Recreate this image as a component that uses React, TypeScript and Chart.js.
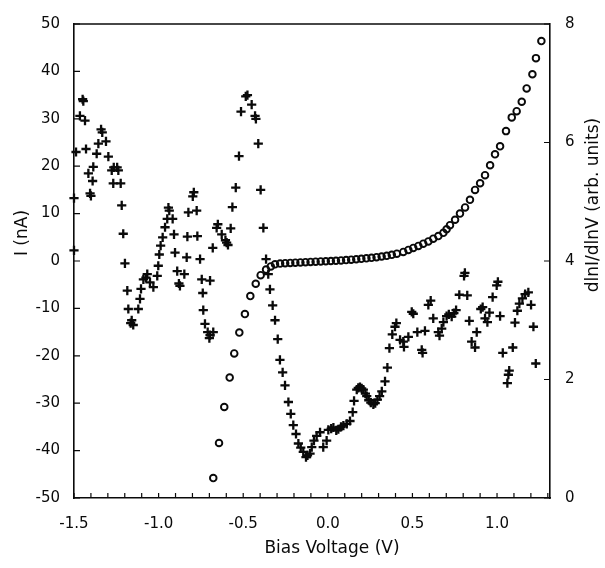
import React, { useEffect, useRef } from "react";
import { Chart, registerables } from "chart.js";

Chart.register(...registerables);

// Current I (nA), open circles, left axis
const circleV = [
  -0.677, -0.643, -0.612, -0.58, -0.553, -0.523, -0.49, -0.458, -0.426, -0.397, -0.365, -0.337, -0.312,
  -0.282, -0.252, -0.222, -0.192, -0.162, -0.132, -0.102, -0.072, -0.042, -0.012, 0.018, 0.048, 0.078,
  0.108, 0.138, 0.168, 0.198, 0.228, 0.258, 0.288, 0.318, 0.348, 0.378, 0.408, 0.446, 0.476, 0.505,
  0.535, 0.564, 0.594, 0.623, 0.653, 0.683, 0.702, 0.722, 0.752, 0.781, 0.811, 0.84, 0.87, 0.9, 0.929,
  0.959, 0.988, 1.018, 1.053, 1.087, 1.116, 1.146, 1.175, 1.209, 1.23, 1.262,
];
const circleI = [
  -45.8, -38.4, -30.8, -24.6, -19.5, -15.1, -11.2, -7.4, -4.8, -3.0, -1.8, -1.15, -0.7,
  -0.55, -0.45, -0.4, -0.35, -0.3, -0.25, -0.2, -0.15, -0.1, -0.05, 0.0, 0.05, 0.12,
  0.2, 0.28, 0.37, 0.46, 0.56, 0.68, 0.8, 0.95, 1.1, 1.3, 1.55, 1.92, 2.34, 2.76,
  3.17, 3.65, 4.13, 4.7, 5.26, 5.95, 6.7, 7.55, 8.7, 10.0, 11.3, 12.9, 15.0, 16.4, 18.1,
  20.2, 22.5, 24.2, 27.4, 30.3, 31.6, 33.6, 36.4, 39.4, 42.8, 46.4,
];

// dlnI/dlnV (arb. units), crosses, right axis
const crossV = [
  -1.5, -1.5, -1.488, -1.449, -1.445, -1.465, -1.435, -1.429, -1.415, -1.386, -1.39, -1.405, -1.4,
  -1.366, -1.356, -1.333, -1.34, -1.311, -1.297, -1.277, -1.265, -1.238, -1.245, -1.268, -1.224,
  -1.218, -1.209, -1.199, -1.185, -1.179, -1.12, -1.159, -1.15, -1.165, -1.11, -1.104, -1.09,
  -1.067, -1.075, -1.051, -1.031, -1.008, -1.002, -0.996, -0.988, -0.976, -0.962, -0.949, -0.937,
  -0.942, -0.917, -0.909, -0.903, -0.89, -0.874, -0.88, -0.848, -0.834, -0.83, -0.824, -0.798,
  -0.792, -0.775, -0.771, -0.755, -0.745, -0.696, -0.739, -0.736, -0.726, -0.71, -0.696, -0.7,
  -0.677, -0.68, -0.657, -0.65, -0.627, -0.605, -0.598, -0.59, -0.574, -0.564, -0.544, -0.525,
  -0.513, -0.485, -0.475, -0.45, -0.43, -0.425, -0.411, -0.397, -0.381, -0.365, -0.352, -0.342,
  -0.326, -0.312, -0.296, -0.283, -0.267, -0.253, -0.233, -0.219, -0.204, -0.188, -0.174, -0.16,
  -0.145, -0.129, -0.12, -0.105, -0.095, -0.082, -0.066, -0.046, -0.027, -0.007, 0.003, 0.02,
  0.033, 0.05, 0.062, 0.078, 0.092, 0.112, 0.131, 0.147, 0.155, 0.171, 0.18, 0.19, 0.2, 0.21,
  0.222, 0.23, 0.242, 0.254, 0.269, 0.28, 0.293, 0.306, 0.319, 0.338, 0.352, 0.364, 0.381, 0.397,
  0.405, 0.427, 0.45, 0.446, 0.476, 0.496, 0.505, 0.529, 0.555, 0.56, 0.574, 0.594, 0.608, 0.623,
  0.653, 0.66, 0.673, 0.683, 0.702, 0.715, 0.732, 0.745, 0.758, 0.777, 0.805, 0.81, 0.824, 0.836,
  0.85, 0.87, 0.88, 0.904, 0.915, 0.929, 0.943, 0.955, 0.974, 0.998, 1.005, 1.018, 1.034, 1.093,
  1.067, 1.061, 1.072, 1.106, 1.12, 1.132, 1.15, 1.166, 1.185, 1.201, 1.215, 1.229,
];
const crossD = [
  5.06, 4.18, 5.84, 6.73, 6.7, 6.45, 6.37, 5.89, 5.48, 5.59, 5.35, 5.14, 5.1,
  5.81, 5.98, 6.17, 6.22, 6.02, 5.76, 5.53, 5.58, 5.53, 5.58, 5.31, 5.31,
  4.94, 4.46, 3.96, 3.5, 3.19, 3.19, 3.0, 2.92, 2.95, 3.36, 3.53, 3.69,
  3.78, 3.72, 3.64, 3.56, 3.75, 3.92, 4.11, 4.26, 4.4, 4.57, 4.71, 4.85,
  4.9, 4.71, 4.45, 4.14, 3.83, 3.58, 3.62, 3.78, 4.06, 4.41, 4.82, 5.09,
  5.16, 4.85, 4.42, 4.03, 3.69, 3.67, 3.46, 3.17, 2.94, 2.8, 2.75, 2.7,
  2.8, 4.22, 4.56, 4.62, 4.45, 4.35, 4.31, 4.27, 4.55, 4.91, 5.24, 5.77,
  6.52, 6.78, 6.8, 6.64, 6.45, 6.4, 5.98, 5.2, 4.56, 4.03, 3.78, 3.52,
  3.25, 3.0, 2.68, 2.33, 2.12, 1.9, 1.62, 1.42, 1.23, 1.08, 0.92, 0.85,
  0.78, 0.69, 0.72, 0.75, 0.86, 0.97, 1.05, 1.11, 0.86, 0.97, 1.15, 1.17,
  1.19, 1.14, 1.16, 1.2, 1.22, 1.25, 1.3, 1.45, 1.64, 1.83, 1.86, 1.87, 1.85, 1.83,
  1.76, 1.72, 1.65, 1.61, 1.58, 1.6, 1.66, 1.72, 1.8, 1.97, 2.2, 2.53, 2.76, 2.89,
  2.95, 2.67, 2.55, 2.64, 2.72, 3.14, 3.11, 2.8, 2.5, 2.45, 2.82, 3.26, 3.33, 3.03,
  2.8, 2.74, 2.86, 2.97, 3.07, 3.1, 3.06, 3.12, 3.17, 3.43, 3.75, 3.8, 3.42, 2.99,
  2.64, 2.54, 2.8, 3.19, 3.22, 3.03, 2.97, 3.13, 3.39, 3.59, 3.65, 3.07, 2.45, 2.54,
  2.08, 1.94, 2.15, 2.96, 3.16, 3.28, 3.37, 3.44, 3.47, 3.26, 2.89, 2.27,
];

const xTicks = [-1.5, -1.0, -0.5, 0.0, 0.5, 1.0];
const xMinorTicks = [
  -1.5, -1.4, -1.3, -1.2, -1.1, -1.0, -0.9, -0.8, -0.7, -0.6, -0.5, -0.4, -0.3, -0.2, -0.1,
  0.0, 0.1, 0.2, 0.3, 0.4, 0.5, 0.6, 0.7, 0.8, 0.9, 1.0, 1.1, 1.2, 1.3,
];
const yLeftTicks = [-50, -40, -30, -20, -10, 0, 10, 20, 30, 40, 50];
const yRightTicks = [0, 2, 4, 6, 8];

const xTitle = "Bias Voltage (V)";
const yLeftTitle = "I (nA)";
const yRightTitle = "dlnI/dlnV (arb. units)";

const INK = "#0a0a0a";
const FONT = "DejaVu Sans";

const framePlugin = {
  id: "framePlugin",
  afterDraw(chart: any) {
    const { ctx, chartArea } = chart;
    const { left, right, top, bottom } = chartArea;
    const xs = chart.scales.x;
    const yl = chart.scales.y;
    const yr = chart.scales.y2;
    ctx.save();
    ctx.strokeStyle = INK;
    ctx.lineWidth = 1.5;
    ctx.beginPath();
    ctx.moveTo(left, top);
    ctx.lineTo(right, top);
    ctx.stroke();
    ctx.lineWidth = 1.2;
    ctx.beginPath();
    for (const v of xMinorTicks) {
      const px = xs.getPixelForValue(v);
      ctx.moveTo(px, bottom);
      ctx.lineTo(px, bottom - 5);
    }
    for (const v of yLeftTicks) {
      const py = yl.getPixelForValue(v);
      ctx.moveTo(left, py);
      ctx.lineTo(left + 6, py);
    }
    for (const v of yRightTicks) {
      const py = yr.getPixelForValue(v);
      ctx.moveTo(right, py);
      ctx.lineTo(right - 6, py);
    }
    ctx.stroke();

    ctx.fillStyle = INK;
    ctx.font = `17px "${FONT}"`;
    ctx.textAlign = "center";
    ctx.textBaseline = "middle";
    ctx.fillText(xTitle, 332, 549);
    ctx.save();
    ctx.translate(23, 233);
    ctx.rotate(-Math.PI / 2);
    ctx.fillText(yLeftTitle, 0, 0);
    ctx.restore();
    ctx.save();
    ctx.translate(594, 205);
    ctx.rotate(-Math.PI / 2);
    ctx.fillText(yRightTitle, 0, 0);
    ctx.restore();
    ctx.restore();
  },
};

export default function App() {
  const ref = useRef<HTMLCanvasElement | null>(null);
  useEffect(() => {
    document.body.style.margin = "0";
    const canvas = ref.current;
    if (!canvas) return;
    Chart.defaults.font.family = FONT;
    const chart = new Chart(canvas, {
      type: "scatter",
      data: {
        datasets: [
          {
            label: "I",
            data: circleV.map((v, i) => ({ x: v, y: circleI[i] })),
            yAxisID: "y",
            pointStyle: "circle",
            pointRadius: 3.3,
            pointBorderWidth: 1.9,
            borderColor: INK,
            backgroundColor: "rgba(255,255,255,0)",
            clip: false,
          },
          {
            label: "dlnI/dlnV",
            data: crossV.map((v, i) => ({ x: v, y: crossD[i] })),
            yAxisID: "y2",
            pointStyle: "cross",
            pointRadius: 4.6,
            pointBorderWidth: 2.3,
            borderColor: INK,
            backgroundColor: INK,
            clip: false,
          },
        ],
      },
      options: {
        animation: false,
        responsive: false,
        layout: { padding: { top: 19, left: 0, right: 0, bottom: 0 } },
        plugins: { legend: { display: false }, tooltip: { enabled: false } },
        scales: {
          x: {
            type: "linear",
            min: -1.5,
            max: 1.313,
            afterBuildTicks: (s: any) => {
              s.ticks = xTicks.map((v) => ({ value: v }));
            },
            afterFit: (s: any) => {
              s.height = 70;
            },
            grid: { display: true, drawOnChartArea: false, drawTicks: false },
            border: { display: true, color: INK, width: 1.6 },
            ticks: {
              padding: 17,
              color: INK,
              font: { size: 15 },
              maxRotation: 0,
              autoSkip: false,
              callback: (v: any) => Number(v).toFixed(1),
            },
          },
          y: {
            type: "linear",
            position: "left",
            min: -50,
            max: 50,
            afterBuildTicks: (s: any) => {
              s.ticks = yLeftTicks.map((v) => ({ value: v }));
            },
            afterFit: (s: any) => {
              s.width = 74;
            },
            grid: { display: true, drawOnChartArea: false, drawTicks: false },
            border: { display: true, color: INK, width: 1.6 },
            ticks: { padding: 14, color: INK, font: { size: 15 }, autoSkip: false },
          },
          y2: {
            type: "linear",
            position: "right",
            min: 0,
            max: 8,
            afterBuildTicks: (s: any) => {
              s.ticks = yRightTicks.map((v) => ({ value: v }));
            },
            afterFit: (s: any) => {
              s.width = 55;
            },
            grid: { display: true, drawOnChartArea: false, drawTicks: false },
            border: { display: true, color: INK, width: 1.6 },
            ticks: { padding: 15, color: INK, font: { size: 15 }, autoSkip: false },
          },
        },
      },
      plugins: [framePlugin],
    } as any);
    return () => chart.destroy();
  }, []);
  return <canvas ref={ref} width={605} height={568} style={{ display: "block" }} />;
}
